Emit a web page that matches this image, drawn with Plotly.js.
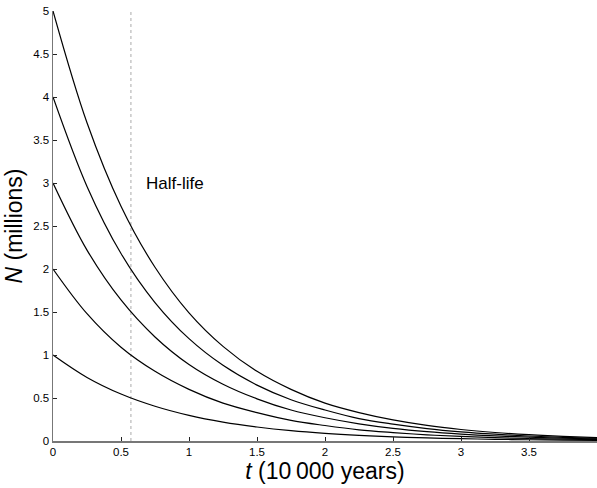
<!DOCTYPE html>
<html>
<head>
<meta charset="utf-8">
<script src="https://cdn.plot.ly/plotly-3.0.1.min.js"></script>
<style>
html,body{margin:0;padding:0;background:#fff;}
#chart{width:597px;height:488px;}
</style>
</head>
<body>
<div id="chart"></div>
<script>
// time in units of 10 000 years
const tValues = [0, 0.25, 0.5, 0.75, 1, 1.25, 1.5, 1.75, 2, 2.25, 2.5, 2.75, 3, 3.25, 3.5, 3.75, 4];
// N in millions
const N1 = [1, 0.739, 0.546, 0.404, 0.298, 0.220, 0.163, 0.120, 0.089, 0.066, 0.049, 0.036, 0.027, 0.020, 0.0145, 0.0107, 0.0079];
const N2 = [2, 1.48, 1.09, 0.81, 0.60, 0.44, 0.33, 0.24, 0.18, 0.13, 0.098, 0.072, 0.053, 0.039, 0.029, 0.021, 0.016];
const N3 = [3, 2.22, 1.64, 1.21, 0.89, 0.66, 0.49, 0.36, 0.27, 0.20, 0.147, 0.108, 0.080, 0.059, 0.044, 0.032, 0.024];
const N4 = [4, 2.96, 2.18, 1.61, 1.19, 0.88, 0.65, 0.48, 0.36, 0.26, 0.196, 0.145, 0.107, 0.079, 0.058, 0.043, 0.032];
const N5 = [5, 3.70, 2.73, 2.02, 1.49, 1.10, 0.81, 0.60, 0.44, 0.33, 0.245, 0.181, 0.134, 0.099, 0.073, 0.054, 0.040];
const halfLife = 0.573;
const halfLifeY = [0, 5];
const halfLifeLabel = 'Half-life';
const labelPos = {x: 0.67, y: 3.0};
const xTicks = [0, 0.5, 1, 1.5, 2, 2.5, 3, 3.5, 4];
const xTickText = ['0', '0.5', '1', '1.5', '2', '2.5', '3', '3.5', '4'];
const yTicks = [0, 0.5, 1, 1.5, 2, 2.5, 3, 3.5, 4, 4.5, 5];
const yTickText = ['0', '0.5', '1', '1.5', '2', '2.5', '3', '3.5', '4', '4.5', '5'];

const font = 'Liberation Sans, Arial, Helvetica, sans-serif';
const series = [N1, N2, N3, N4, N5];
const traces = series.map(function (ys) {
  return {
    x: tValues, y: ys, type: 'scatter', mode: 'lines',
    line: {color: '#000', width: 1.2, shape: 'spline', smoothing: 1},
    hoverinfo: 'x+y', showlegend: false, cliponaxis: false
  };
});
traces.unshift({
  x: [halfLife, halfLife], y: halfLifeY, type: 'scatter', mode: 'lines',
  line: {color: '#aaa', width: 1, dash: 'dot'}, showlegend: false, hoverinfo: 'skip'
});

const layout = {
  width: 597, height: 488,
  margin: {l: 53, r: 0, t: 11, b: 47, pad: 0},
  paper_bgcolor: '#fff', plot_bgcolor: '#fff',
  font: {family: font, color: '#000', size: 11.5},
  xaxis: {
    range: [0, 4], tickvals: xTicks, ticktext: xTickText,
    ticks: 'inside', ticklen: 4, tickwidth: 1, tickcolor: '#222',
    showline: true, linecolor: '#777', linewidth: 1.5,
    showgrid: false, zeroline: false, fixedrange: true,
    tickfont: {family: font, size: 11.5, color: '#000'},
    title: {text: '<i>t</i> (10\u2009000 years)', font: {family: font, size: 23, color: '#000'}, standoff: 5}
  },
  yaxis: {
    range: [0, 5], tickvals: yTicks, ticktext: yTickText,
    ticks: 'inside', ticklen: 4, tickwidth: 1, tickcolor: '#222',
    showline: true, linecolor: '#777', linewidth: 1.5,
    showgrid: false, zeroline: false, fixedrange: true,
    tickfont: {family: font, size: 11.5, color: '#000'},
    title: {text: '<i>N</i> (millions)', font: {family: font, size: 23, color: '#000'}, standoff: 4}
  },
  annotations: [{
    x: labelPos.x, y: labelPos.y, xref: 'x', yref: 'y',
    text: halfLifeLabel, showarrow: false, xanchor: 'left', yanchor: 'middle',
    font: {family: font, size: 17, color: '#000'}
  }]
};

Plotly.newPlot('chart', traces, layout, {displayModeBar: false, staticPlot: true});
</script>
</body>
</html>
